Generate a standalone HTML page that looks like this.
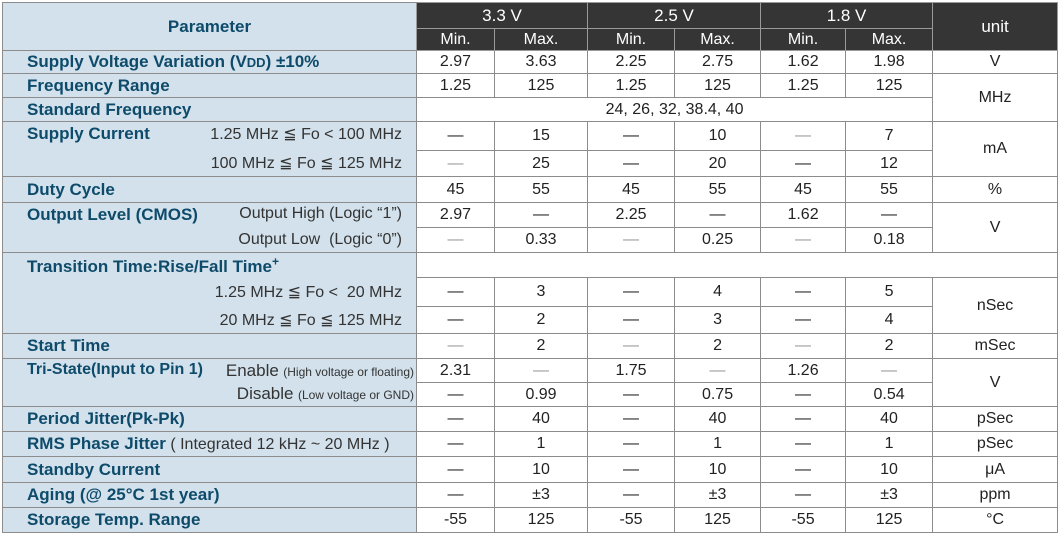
<!DOCTYPE html>
<html><head><meta charset="utf-8"><style>
body{margin:0;background:#fff;width:1060px;height:535px;overflow:hidden;font-family:"Liberation Sans",sans-serif}
table{position:absolute;left:2px;top:2px;border-collapse:collapse;table-layout:fixed;width:1056px}
td{border:1px solid #8c8c8c;padding:0;text-align:center;font-size:16px;color:#222;white-space:nowrap;overflow:hidden}
td.L{background:#d2e1eb;text-align:left;padding-left:24px;border-right:none;color:#333;font-size:16px}
td.nb{border-bottom:none}
td.nt{border-top:none}
.b{font-weight:bold;color:#0e4b6b;font-size:17px}
.r{float:right;padding-right:14px}
.h{background:#353535;color:#fff;font-size:16px;border-color:#9a9a9a}
.hv{font-size:17px}
.hp{background:#d2e1eb;color:#0e4b6b;font-weight:bold;font-size:17px;border-right:none}
.s{font-size:12px}
</style></head><body>
<table>
<colgroup><col style="width:414px"><col style="width:78px"><col style="width:93px"><col style="width:87px"><col style="width:86px"><col style="width:85px"><col style="width:87px"><col style="width:125px"></colgroup>
<tr style="height:26px"><td rowspan="2" class="hp">Parameter</td><td colspan="2" class="h hv">3.3 V</td><td colspan="2" class="h hv">2.5 V</td><td colspan="2" class="h hv">1.8 V</td><td rowspan="2" class="h hv">unit</td></tr>
<tr style="height:22px"><td class="h">Min.</td><td class="h">Max.</td><td class="h">Min.</td><td class="h">Max.</td><td class="h">Min.</td><td class="h">Max.</td></tr>
<tr style="height:23px"><td class="L"><span class="b">Supply Voltage Variation (V<span style="font-size:13px">DD</span>) ±10%</span></td><td>2.97</td><td>3.63</td><td>2.25</td><td>2.75</td><td>1.62</td><td>1.98</td><td>V</td></tr>
<tr style="height:24px"><td class="L"><span class="b">Frequency Range</span></td><td>1.25</td><td>125</td><td>1.25</td><td>125</td><td>1.25</td><td>125</td><td rowspan="2">MHz</td></tr>
<tr style="height:24px"><td class="L"><span class="b">Standard Frequency</span></td><td colspan="6">24, 26, 32, 38.4, 40</td></tr>
<tr style="height:29px"><td class="L nb"><span class="b" style="vertical-align:4px">Supply Current</span><span class="r">1.25 MHz ≦ Fo &lt; 100 MHz</span></td><td>—</td><td>15</td><td>—</td><td>10</td><td style="color:#999">—</td><td>7</td><td rowspan="2">mA</td></tr>
<tr style="height:26px"><td class="L nt"><span class="r">100 MHz ≦ Fo ≦ 125 MHz</span></td><td style="color:#999">—</td><td>25</td><td>—</td><td>20</td><td>—</td><td>12</td></tr>
<tr style="height:26px"><td class="L"><span class="b">Duty Cycle</span></td><td>45</td><td>55</td><td>45</td><td>55</td><td>45</td><td>55</td><td>%</td></tr>
<tr style="height:25px"><td class="L nb"><span class="b">Output Level (CMOS)</span><span class="r">Output High (Logic “1”)</span></td><td>2.97</td><td>—</td><td>2.25</td><td>—</td><td>1.62</td><td>—</td><td rowspan="2">V</td></tr>
<tr style="height:25px"><td class="L nt"><span class="r">Output Low &nbsp;(Logic “0”)</span></td><td style="color:#999">—</td><td>0.33</td><td style="color:#999">—</td><td>0.25</td><td style="color:#999">—</td><td>0.18</td></tr>
<tr style="height:25px"><td class="L nb"><span class="b">Transition Time:Rise/Fall Time<sup style="font-size:12px">+</sup></span></td><td colspan="7"></td></tr>
<tr style="height:29px"><td class="L nt nb"><span class="r">1.25 MHz ≦ Fo &lt; &nbsp;20 MHz</span></td><td>—</td><td>3</td><td>—</td><td>4</td><td>—</td><td>5</td><td rowspan="2">nSec</td></tr>
<tr style="height:27px"><td class="L nt"><span class="r">20 MHz ≦ Fo ≦ 125 MHz</span></td><td>—</td><td>2</td><td>—</td><td>3</td><td>—</td><td>4</td></tr>
<tr style="height:25px"><td class="L"><span class="b">Start Time</span></td><td style="color:#999">—</td><td>2</td><td style="color:#999">—</td><td>2</td><td style="color:#999">—</td><td>2</td><td>mSec</td></tr>
<tr style="height:24px"><td class="L nb"><span class="b" style="font-size:16px">Tri-State(Input to Pin 1)</span><span class="r" style="padding-right:2px"><span style="font-size:17px">Enable</span> <span class="s">(High voltage or floating)</span></span></td><td>2.31</td><td style="color:#999">—</td><td>1.75</td><td style="color:#999">—</td><td>1.26</td><td style="color:#999">—</td><td rowspan="2">V</td></tr>
<tr style="height:24px"><td class="L nt"><span class="r" style="padding-right:2px"><span style="font-size:17px">Disable</span> <span class="s">(Low voltage or GND)</span></span></td><td>—</td><td>0.99</td><td>—</td><td>0.75</td><td>—</td><td>0.54</td></tr>
<tr style="height:25px"><td class="L"><span class="b">Period Jitter(Pk-Pk)</span></td><td>—</td><td>40</td><td>—</td><td>40</td><td>—</td><td>40</td><td>pSec</td></tr>
<tr style="height:25px"><td class="L"><span class="b">RMS Phase Jitter</span> ( Integrated 12 kHz ~ 20 MHz )</td><td>—</td><td>1</td><td>—</td><td>1</td><td>—</td><td>1</td><td>pSec</td></tr>
<tr style="height:26px"><td class="L"><span class="b">Standby Current</span></td><td>—</td><td>10</td><td>—</td><td>10</td><td>—</td><td>10</td><td>μA</td></tr>
<tr style="height:25px"><td class="L"><span class="b">Aging (@ 25°C 1st year)</span></td><td>—</td><td>±3</td><td>—</td><td>±3</td><td>—</td><td>±3</td><td>ppm</td></tr>
<tr style="height:25px"><td class="L"><span class="b">Storage Temp. Range</span></td><td>-55</td><td>125</td><td>-55</td><td>125</td><td>-55</td><td>125</td><td>°C</td></tr>
</table>
</body></html>
